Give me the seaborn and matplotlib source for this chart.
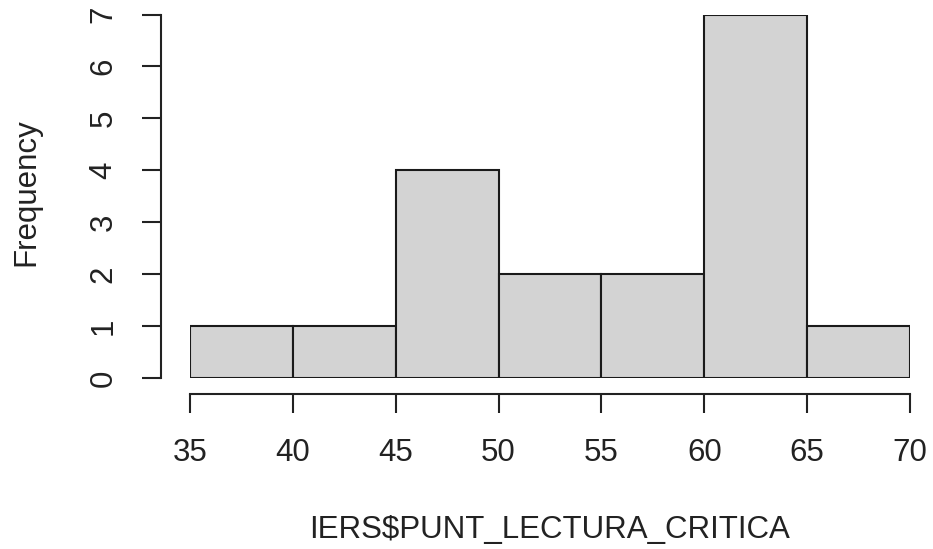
import matplotlib
matplotlib.use("Agg")
import matplotlib.pyplot as plt
import seaborn as sns

# Histogram counts (R base hist)
BIN_EDGES = [35, 40, 45, 50, 55, 60, 65, 70]
BIN_MIDS = [37.5, 42.5, 47.5, 52.5, 57.5, 62.5, 67.5]
COUNTS = [1, 1, 4, 2, 2, 7, 1]
X_TICKS = [35, 40, 45, 50, 55, 60, 65, 70]
Y_TICKS = [0, 1, 2, 3, 4, 5, 6, 7]

sns.set_style("ticks")
plt.rcParams['font.family'] = ['Liberation Sans', 'DejaVu Sans']

fig = plt.figure(figsize=(9.33, 5.49), dpi=100)
ax = fig.add_axes([190 / 933, 171 / 549, 720 / 933, 363.5 / 549])

sns.histplot(x=BIN_MIDS, weights=COUNTS, bins=BIN_EDGES, ax=ax,
             color="#D3D3D3", edgecolor="#1a1a1a", linewidth=1.5, alpha=1)

ax.set_xlim(35, 70)
ax.set_ylim(0, 7)
ax.set_xticks(X_TICKS)
ax.set_yticks(Y_TICKS)

for s in ["top", "right"]:
    ax.spines[s].set_visible(False)
ax.spines["left"].set_position(("outward", 21))
ax.spines["bottom"].set_position(("outward", 11.5))
ax.spines["left"].set_bounds(0, 7)
ax.spines["bottom"].set_bounds(35, 70)
for s in ["left", "bottom"]:
    ax.spines[s].set_color("#222222")
    ax.spines[s].set_linewidth(1.5)

ax.tick_params(axis="both", direction="out", length=13.5, width=1.5,
               bottom=True, left=True,
               color="#222222", labelsize=22.5, labelcolor="#222222")
ax.tick_params(axis="x", pad=18)
ax.tick_params(axis="y", pad=17)
for lab in ax.get_yticklabels():
    lab.set_rotation(90)
    lab.set_va("center")

ax.set_xlabel("IERS$PUNT_LECTURA_CRITICA", fontsize=22.5, color="#222222")
ax.set_ylabel("Frequency", fontsize=22.5, color="#222222")
ax.xaxis.set_label_coords(0.5, -0.377)
ax.yaxis.set_label_coords(-0.207, 0.512)

fig.savefig("out.png", dpi=100, facecolor="white")
